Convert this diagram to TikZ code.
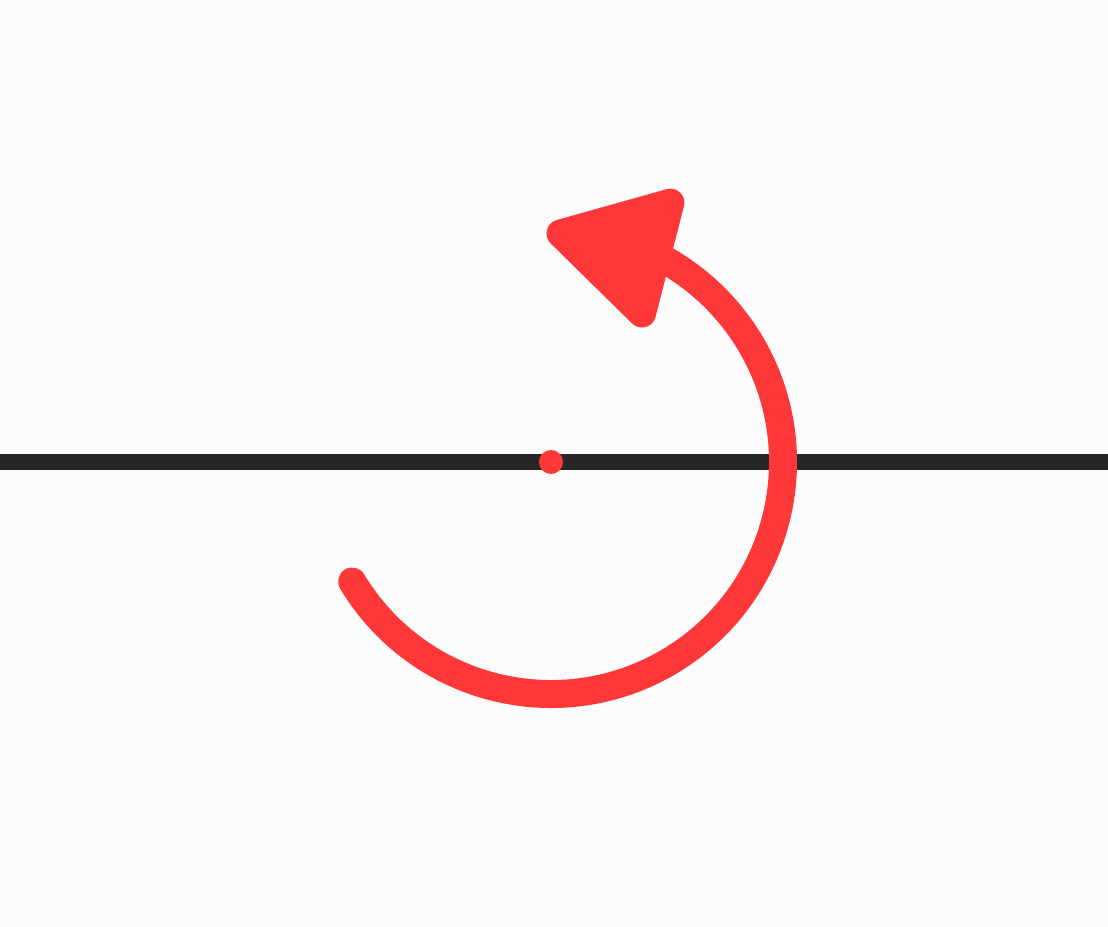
\documentclass[tikz,border=0pt]{standalone}
\usetikzlibrary{arrows.meta,bending}
\definecolor{turnred}{RGB}{254,56,56}
\definecolor{axisgray}{RGB}{38,38,38}
\definecolor{paper}{RGB}{252,252,252}
\begin{document}
\begin{tikzpicture}[
    axis/.style={draw=axisgray, line width=0.16cm},
    turn/.style={draw=turnred, line width=0.28cm, line cap=round,
                 -{Triangle[length=1.42cm, width=1.55cm, round]}},
]
  % Canvas
  \fill[paper] (-5.51,-4.65) rectangle (5.57,4.62);
  \useasboundingbox (-5.51,-4.65) rectangle (5.57,4.62);

  % Axis and centre
  \coordinate (west) at (-5.51,0);
  \coordinate (east) at (5.57,0);
  \draw[axis] (west) -- (east);
  \fill[turnred] (0,0) coordinate (pivot) circle (0.12cm);

  % Rotation arrow
  \draw[turn] (pivot) ++(211:2.32) arc[start angle=211, end angle=451, radius=2.32];
\end{tikzpicture}
\end{document}
